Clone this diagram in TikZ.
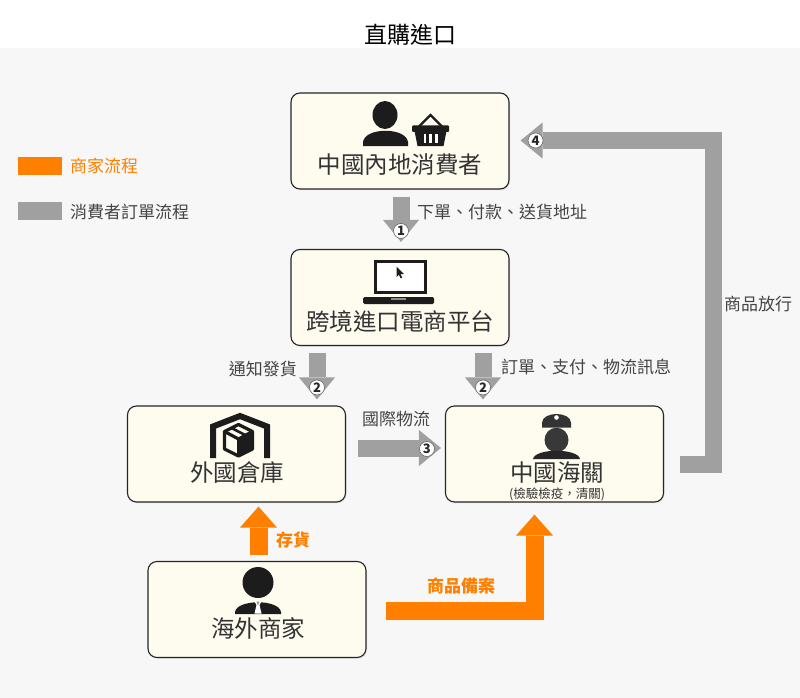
\documentclass[tikz,border=0pt]{standalone}
\usepackage{fontspec}
\setmainfont{Noto Sans CJK TC}
\usetikzlibrary{arrows.meta,calc,shadows}
\definecolor{bg}{HTML}{F7F7F7}
\definecolor{boxfill}{HTML}{FEFBEF}
\definecolor{flowgray}{HTML}{A0A0A0}
\definecolor{flowor}{HTML}{FF8000}
\definecolor{txt}{HTML}{333333}
\definecolor{lbl}{HTML}{444444}
\definecolor{icon}{HTML}{1C1C1C}
\tikzset{
  box/.style={draw=black!85, line width=1.1pt, fill=boxfill, rounded corners=9pt,
    minimum width=218pt, minimum height=96pt, inner sep=0pt,
    drop shadow={shadow xshift=1pt, shadow yshift=-1.2pt, opacity=0.18}},
  boxtxt/.style={font=\fontsize{23.5}{23.5}\selectfont, text=txt, inner sep=0pt},
  subtxt/.style={font=\fontsize{12.5}{12.5}\selectfont, text=txt, inner sep=0pt},
  lab/.style={font=\fontsize{17}{17}\selectfont, text=lbl, inner sep=0pt},
  olab/.style={font=\fontsize{17}{17}\selectfont\bfseries, text=flowor, inner sep=0pt},
  garrow/.style={draw=flowgray, line width=17pt, line join=miter,
    -{Triangle[width=36pt,length=22pt,line width=0pt]}},
  oarrow/.style={draw=flowor, line width=18pt, line join=miter,
    -{Triangle[width=37pt,length=21pt,line width=0pt]}},
  num/.style={circle, fill=white, draw=black!60, line width=0.6pt, inner sep=0pt,
    minimum size=15pt, font=\fontsize{13}{13}\selectfont\bfseries, text=black!85},
}
\begin{document}
\begin{tikzpicture}[x=1pt,y=-1pt]
\useasboundingbox (0,0) rectangle (800,698);
\fill[white] (0,0) rectangle (800,48);
\fill[bg] (0,48) rectangle (800,698);

% title
\node[font=\fontsize{23}{23}\selectfont, text=black, inner sep=0pt] (title) at (410,35) {直購進口};

% legend
\fill[flowor] (18,157) rectangle (62,175);
\node[olab, anchor=west, font=\fontsize{17}{17}\selectfont] (leg1) at (70,166) {商家流程};
\fill[flowgray] (18,202) rectangle (62,220);
\node[lab, anchor=west] (leg2) at (70,212) {消費者訂單流程};

% boxes
\node[box] (c) at (400,141) {};
\node[box] (p) at (400,297.5) {};
\node[box] (w) at (236.5,454) {};
\node[box] (h) at (554.5,454) {};
\node[box] (m) at (257,609.5) {};

\node[boxtxt] (ct) at (400,165) {中國內地消費者};
\node[boxtxt] (pt) at (400,322) {跨境進口電商平台};
\node[boxtxt] (wt) at (237,473) {外國倉庫};
\node[boxtxt] (ht) at (557,473) {中國海關};
\node[subtxt] (hs) at (557,494) {(檢驗檢疫，清關)};
\node[boxtxt] (mt) at (258,628) {海外商家};

% --- icons ---
% consumer
\fill[icon] (385,115) ellipse [x radius=12.5, y radius=14];
\fill[icon] (363,146) -- (363,142) .. controls (365,127) and (406,127) .. (408,142) -- (408,146) -- cycle;
\draw[icon, line width=2.2pt, line join=miter] (417.5,128) -- (430.5,115) -- (443.5,128);
\fill[icon, rounded corners=1pt] (412,125.5) rectangle (449,132);
\fill[icon] (414.5,131) -- (446.5,131) -- (443.5,146) -- (417.5,146) -- cycle;
\fill[white] (423.5,134.5) rectangle (426,142.5);
\fill[white] (429.3,134.5) rectangle (431.8,142.5);
\fill[white] (435.1,134.5) rectangle (437.6,142.5);
% laptop
\fill[icon] (374,260) rectangle (427,294);
\fill[white] (377,263) rectangle (424,291);
\fill[icon, rounded corners=1.5pt] (363,297) -- (434,297) -- (434,304) -- (363,304) -- cycle;
\fill[black!45] (391,298.3) rectangle (406,300);
\fill[icon] (396.5,266.5) -- (396.5,277) -- (398.9,274.6) -- (400.6,278.3) -- (402.2,277.6) -- (400.5,274) -- (403.8,274) -- cycle;
% warehouse
\draw[icon, line width=6pt, line join=miter] (213,458) -- (213,426.5) -- (240,416) -- (267,426.5) -- (267,458);
\fill[icon] (238.5,439) -- (252.5,432) -- (252.5,449) -- (238.5,456) -- cycle;
\draw[icon, line width=3.2pt, line join=round] (238.5,424.5) -- (252.5,431.5) -- (252.5,449) -- (238.5,456) -- (224.5,449) -- (224.5,431.5) -- cycle;
\draw[icon, line width=3.2pt] (224.5,431.5) -- (238.5,439) -- (252.5,431.5);
\draw[icon, line width=3.2pt] (238.5,439) -- (238.5,456);
\draw[icon, line width=2.6pt] (231.5,428) -- (245.5,435.2) -- (245.5,441);
% officer
\fill[black!80] (542,427.5) -- (542,423) .. controls (542,411) and (571,411) .. (571,423) -- (571,427.5) -- cycle;
\fill[white] (556.5,417.5) circle [radius=2.3];
\fill[black!78] (556.5,440) ellipse [x radius=12, y radius=12.3];
\fill[black!85] (533,459) .. controls (535,448) and (578,448) .. (580,459) -- cycle;
% businessman
\fill[icon] (258,582.5) circle [radius=15.5];
\fill[icon] (235,614) -- (235,612) .. controls (237,599) and (279,599) .. (281,612) -- (281,614) -- cycle;
\fill[white] (254.5,601.5) -- (261.5,601.5) -- (259.5,605) -- (261.5,613.5) -- (254.5,613.5) -- (256.5,605) -- cycle;
\fill[black!40] (256.5,601.5) -- (259.5,601.5) -- (258.6,604.5) -- (257.4,604.5) -- cycle;

% --- gray connectors ---
\draw[garrow] ($(c.south)+(1,7)$) -- ($(p.north)+(1,-7)$);
\node[num] (n1) at ($(p.north)+(1,-18)$) {1};
\node[lab, anchor=west] (l1) at (417,212) {下單、付款、送貨地址};

\draw[garrow] ($(p.south)+(-83,7)$) -- ($(w.north)+(80.5,-6)$);
\node[num] (n2a) at ($(w.north)+(80.5,-18)$) {2};
\node[lab, anchor=east] (l2a) at (297,369) {通知發貨};

\draw[garrow] ($(p.south)+(83,7)$) -- ($(h.north)+(-71.5,-6)$);
\node[num] (n2b) at ($(h.north)+(-71.5,-18)$) {2};
\node[lab, anchor=west] (l2b) at (501,367) {訂單、支付、物流訊息};

\draw[garrow] ($(w.east)+(12,-6)$) -- ($(h.west)+(-4,-6)$);
\node[num] (n3) at ($(h.west)+(-18,-5)$) {3};
\node[lab] (l3) at (396,419) {國際物流};

\draw[garrow] ($(h.east)+(16,10)$) -- ++(33,0) |- ($(c.east)+(11,-0.5)$);
\node[num] (n4) at ($(c.east)+(26,-0.5)$) {4};
\node[lab, anchor=west] (l4) at (724,304) {商品放行};

% --- orange connectors ---
\draw[oarrow] ($(m.north)+(1.5,-6)$) -- ($(w.south)+(22,4)$);
\node[olab, anchor=west] (l5) at (276,540) {存貨};
\draw[oarrow] ($(m.east)+(19,1)$) -| ($(h.south)+(-20,12)$);
\node[olab] (l6) at (461,586) {商品備案};
\end{tikzpicture}
\end{document}
